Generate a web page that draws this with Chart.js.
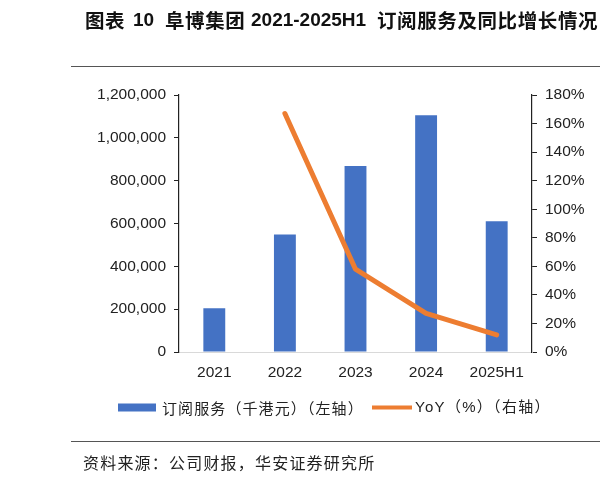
<!DOCTYPE html>
<html>
<head>
<meta charset="utf-8">
<script src="https://cdn.jsdelivr.net/npm/chart.js@4.4.0/dist/chart.umd.min.js"></script>
<style>
  body { margin: 0; background: #fff; }
  #page { position: relative; width: 600px; height: 479px; overflow: hidden; }
  #chartCanvas { position: absolute; left: 0; top: 0; }
  .t { position: absolute; top: 9px; line-height: 22px; font-weight: bold; color: #111;
       font-family: "Liberation Sans", Arial, "Noto Sans CJK SC", sans-serif; font-size: 19px; white-space: nowrap; }
  .cjk { font-family: "Noto Sans CJK SC", sans-serif; font-size: 19.5px; letter-spacing: 0.6px; }
  .rule { position: absolute; left: 71px; width: 529px; border-top: 1.5px solid #555; }
  #source { position: absolute; left: 83px; top: 451px; line-height: 22px; font-size: 16px; letter-spacing: 1.2px;
            color: #222; font-family: "Noto Sans CJK SC", sans-serif; white-space: nowrap; }
</style>
</head>
<body>
<div id="page">
  <canvas id="chartCanvas" width="600" height="479"></canvas>
  <div class="t cjk" style="left:85px">图表</div>
  <div class="t" style="left:133px">10</div>
  <div class="t cjk" style="left:165px">阜博集团</div>
  <div class="t" style="left:251px">2021-2025H1</div>
  <div class="t cjk" style="left:377px">订阅服务及同比增长情况</div>
  <div class="rule" style="top:66px"></div>
  <div class="rule" style="top:441px"></div>
  <div id="source">资料来源：公司财报，华安证券研究所</div>
</div>
<script>
// Datos
const years = ['2021', '2022', '2023', '2024', '2025H1'];
const subscription = [204000, 549000, 868000, 1106000, 610000]; // 千港元
const yoy = [null, 167, 58, 27, 12]; // %
const leftMax = 1200000;
const leftStep = 200000;
const rightMax = 180;
const rightStep = 20;

const barColor = '#4472C4';
const lineColor = '#ED7D31';
const tickFont = { family: '"Liberation Sans", Arial, sans-serif', size: 15.5 };

// leyenda dibujada a mano para controlar la posición
const legendPlugin = {
    id: 'customLegend',
    afterDraw(chart) {
        const c = chart.ctx;
        c.save();
        c.textBaseline = 'middle';
        c.fillStyle = barColor;
        c.fillRect(118, 403.5, 38, 8);
        c.strokeStyle = lineColor;
        c.lineWidth = 4;
        c.beginPath();
        c.moveTo(372, 407.5);
        c.lineTo(412, 407.5);
        c.stroke();
        c.fillStyle = '#222';
        c.letterSpacing = '1.1px';
        c.font = '15px "Noto Sans CJK SC", sans-serif';
        c.fillText(chart.data.datasets[1].label, 162, 408);
        c.letterSpacing = '1.3px';
        c.font = '15px "Liberation Sans", Arial, "Noto Sans CJK SC", sans-serif';
        c.fillText(chart.data.datasets[0].label, 415, 408);
        c.restore();
    }
};

const ctx = document.getElementById('chartCanvas').getContext('2d');
const chart = new Chart(ctx, {
    type: 'bar',
    data: {
        labels: years,
        datasets: [{
            type: 'line',
            label: 'YoY（%）（右轴）',
            data: yoy,
            yAxisID: 'y1',
            borderColor: lineColor,
            backgroundColor: lineColor,
            borderWidth: 5,
            borderCapStyle: 'round',
            borderJoinStyle: 'round',
            pointRadius: 0,
            tension: 0,
            order: 0
        }, {
            label: '订阅服务（千港元）（左轴）',
            data: subscription,
            yAxisID: 'y',
            backgroundColor: barColor,
            categoryPercentage: 1,
            barPercentage: 0.31,
            order: 1
        }]
    },
    options: {
        responsive: false,
        animation: false,
        layout: { padding: { top: 95, left: 0, right: 0, bottom: 0 } },
        plugins: {
            legend: { display: false },
            tooltip: { enabled: false }
        },
        scales: {
            x: {
                grid: { display: false },
                border: { display: true, color: '#d9d9d9', width: 1 },
                ticks: { color: '#222', font: tickFont, padding: 3, maxRotation: 0 },
                afterFit(s) { s.height = 127; }
            },
            y: {
                position: 'left',
                min: 0,
                max: leftMax,
                grid: { drawOnChartArea: false, drawTicks: true, tickLength: 5, color: '#222' },
                border: { display: true, color: '#222', width: 1.2 },
                ticks: {
                    stepSize: leftStep,
                    color: '#222',
                    font: tickFont,
                    padding: 8,
                    callback: v => v.toLocaleString('en-US')
                },
                afterFit(s) { s.width = 179; }
            },
            y1: {
                position: 'right',
                min: 0,
                max: rightMax,
                grid: { drawOnChartArea: false, drawTicks: true, tickLength: 5, color: '#222' },
                border: { display: true, color: '#222', width: 1.2 },
                ticks: {
                    stepSize: rightStep,
                    color: '#222',
                    font: tickFont,
                    padding: 8,
                    callback: v => v + '%'
                },
                afterFit(s) { s.width = 68; }
            }
        }
    },
    plugins: [legendPlugin]
});
</script>
</body>
</html>
